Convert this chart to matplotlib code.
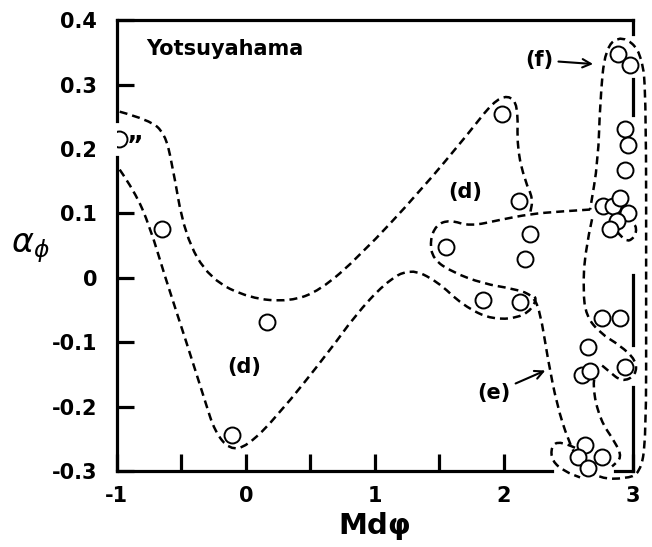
import numpy as np
import matplotlib
matplotlib.use("Agg")
import matplotlib.pyplot as plt
from matplotlib.path import Path
from matplotlib.patches import PathPatch

# sample points (Md phi, alpha phi)
md_phi = [-0.651, 0.163, -0.109,
          1.984, 2.116, 2.202, 2.163, 1.550, 1.837, 2.124,
          2.884, 2.977, 2.938, 2.960, 2.938,
          2.767, 2.845, 2.899, 2.961, 2.876, 2.822,
          2.760, 2.899, 2.651, 2.938, 2.605, 2.670,
          2.628, 2.574, 2.760, 2.651]
alpha_phi = [0.076, -0.069, -0.244,
             0.255, 0.119, 0.068, 0.029, 0.048, -0.035, -0.037,
             0.347, 0.330, 0.231, 0.207, 0.168,
             0.111, 0.111, 0.124, 0.100, 0.088, 0.076,
             -0.063, -0.063, -0.108, -0.139, -0.151, -0.145,
             -0.259, -0.279, -0.278, -0.295]
# point sitting on the left axis
edge_md, edge_alpha = -0.985, 0.216

# dashed group outlines
upper_x = [-0.977, -0.744, -0.628, -0.574, -0.473, -0.279, 0.031, 0.341, 0.574, 0.884,
           1.349, 1.736, 1.915, 2.031, 2.109, 2.101, 2.163, 2.225, 2.202]
upper_y = [0.258, 0.245, 0.224, 0.181, 0.065, -0.002, -0.032, -0.037, -0.020, 0.034,
           0.134, 0.227, 0.273, 0.284, 0.269, 0.201, 0.150, 0.123, 0.100]

lower_x = [-0.977, -0.860, -0.744, -0.628, -0.457, -0.318, -0.240, -0.124, 0.008, 0.240,
           0.651, 0.845, 1.078, 1.271, 1.481, 1.682, 1.915, 2.163, 2.256, 2.225]
lower_y = [0.168, 0.134, 0.080, 0.003, -0.102, -0.190, -0.239, -0.267, -0.262, -0.216,
           -0.113, -0.059, -0.008, 0.015, -0.005, -0.043, -0.066, -0.060, -0.035, -0.026]

outer_x = [2.667, 2.434, 2.202, 1.969, 1.736, 1.581, 1.473, 1.426, 1.450, 1.597, 1.837,
           2.070, 2.217, 2.279, 2.341, 2.411, 2.496, 2.589, 2.744, 2.938, 3.054, 3.101,
           3.101, 3.101, 3.070, 2.915, 2.783, 2.744, 2.729, 2.667]
outer_y = [0.106, 0.103, 0.099, 0.090, 0.080, 0.090, 0.082, 0.057, 0.029, 0.009, -0.009,
           -0.017, -0.026, -0.051, -0.128, -0.198, -0.252, -0.290, -0.312, -0.312, -0.304, -0.252,
           -0.035, 0.273, 0.350, 0.377, 0.358, 0.273, 0.181, 0.106]

inner_x = [2.682, 2.628, 2.612, 2.636, 2.744, 2.899, 3.023, 3.023, 2.915, 2.806, 2.729,
           2.682, 2.744, 2.860, 2.915, 2.837]
inner_y = [0.091, 0.042, -0.020, -0.059, -0.086, -0.105, -0.128, -0.151, -0.162, -0.144, -0.131,
           -0.167, -0.221, -0.255, -0.279, -0.293]

lobe_x = [2.550, 2.434, 2.364, 2.372, 2.473, 2.589]
lobe_y = [-0.264, -0.253, -0.262, -0.285, -0.301, -0.310]

small_x = [2.876, 2.940, 3.010, 3.030, 2.990]
small_y = [0.072, 0.055, 0.062, 0.078, 0.087]


def smooth_path(xs, ys):
    pts = np.column_stack([xs, ys])
    verts = [pts[0]]
    codes = [Path.MOVETO]
    for i in range(1, len(pts) - 1):
        verts += [pts[i], (pts[i] + pts[i + 1]) / 2]
        codes += [Path.CURVE3, Path.CURVE3]
    verts.append(pts[-1])
    codes.append(Path.LINETO)
    return Path(verts, codes)


fig = plt.figure(figsize=(6.52, 5.47), dpi=100)
ax = fig.add_axes([0.179, 0.139, 0.792, 0.824])
ax.set_xlim(-1, 3)
ax.set_ylim(-0.3, 0.4)

dash = (0, (3.2, 2.0))
for xs, ys in [(upper_x, upper_y), (lower_x, lower_y), (outer_x, outer_y),
               (inner_x, inner_y), (lobe_x, lobe_y), (small_x, small_y)]:
    ax.add_patch(PathPatch(smooth_path(xs, ys), fill=False, lw=1.8, ls=dash,
                           ec="black", clip_on=False, capstyle="butt"))

ax.plot(md_phi, alpha_phi, "o", ms=11.5, mfc="white", mec="black", mew=1.4,
        ls="none", clip_on=False, zorder=5)
ax.plot([edge_md], [edge_alpha], "o", ms=11.5, mfc="white", mec="black", mew=1.4,
        ls="none", zorder=5)
ax.text(-0.86, 0.205, "\u201d", fontsize=18, fontweight="bold", ha="center", va="center")

# broken frame, as drawn in the original
for side in ax.spines.values():
    side.set_visible(False)
frame = [([-1, -1], [0.4, 0.243]), ([-1, -1], [0.187, -0.3]),
         ([-1, 3], [0.4, 0.4]), ([3, 3], [0.4, 0.378]),
         ([3, 3], [0.309, 0.253]), ([3, 3], [0.005, -0.105]),
         ([3, 3], [-0.170, -0.3]), ([-1, 2.37], [-0.3, -0.3]),
         ([2.86, 3], [-0.3, -0.3])]
for fx, fy in frame:
    ax.plot(fx, fy, color="black", lw=2.3, clip_on=False, solid_capstyle="projecting", zorder=6)

ax.set_xticks([-1, 0, 1, 2, 3])
ax.set_xticks([-0.5, 0.5, 1.5], minor=True)
ax.set_yticks([-0.3, -0.2, -0.1, 0, 0.1, 0.2, 0.3, 0.4])
ax.set_yticklabels(["-0.3", "-0.2", "-0.1", "0", "0.1", "0.2", "0.3", "0.4"])
ax.set_xticklabels(["-1", "0", "1", "2", "3"])
ax.tick_params(axis="both", which="both", direction="in", length=12, width=2.3,
               labelsize=15, pad=11)
ax.tick_params(axis="y", pad=14)
for lab in ax.get_xticklabels() + ax.get_yticklabels():
    lab.set_fontweight("bold")
ax.yaxis.get_major_ticks()[5].tick1line.set_visible(False)

ax.text(-0.77, 0.355, "Yotsuyahama", fontsize=15, fontweight="bold", va="center")
ax.text(1.70, 0.134, "(d)", fontsize=15, fontweight="bold", ha="center", va="center")
ax.text(-0.01, -0.139, "(d)", fontsize=15, fontweight="bold", ha="center", va="center")
ax.annotate("(f)", xy=(2.69, 0.332), xytext=(2.27, 0.338), fontsize=15, fontweight="bold",
            ha="center", va="center",
            arrowprops=dict(arrowstyle="->", lw=1.5, color="black", shrinkA=2, shrinkB=0))
ax.annotate("(e)", xy=(2.32, -0.144), xytext=(1.92, -0.179), fontsize=15, fontweight="bold",
            ha="center", va="center",
            arrowprops=dict(arrowstyle="->", lw=1.5, color="black", shrinkA=2, shrinkB=0))

ax.set_xlabel("Md\u03c6", fontsize=21, fontweight="bold", labelpad=4)
fig.text(30 / 652, 1 - 248 / 547, r"$\alpha_{\phi}$", fontsize=24, ha="center", va="center")

fig.savefig("out.png", dpi=100)
